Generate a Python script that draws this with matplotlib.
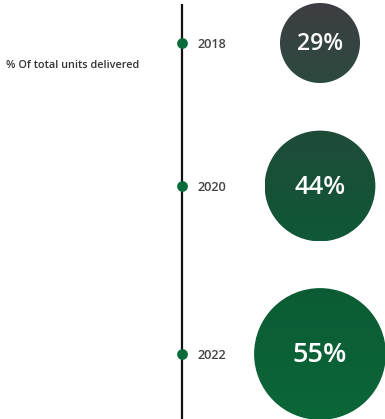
import numpy as np
import matplotlib
matplotlib.use('Agg')
import matplotlib.pyplot as plt
from matplotlib.patches import Circle
from matplotlib.colors import LinearSegmentedColormap

years = ['2018', '2020', '2022']
shares = [29, 44, 55]
caption = '% Of total units delivered'

# top/bottom shade of each bubble
tops = ['#3e3e42', '#1f4b39', '#0c5c34']
bottoms = ['#2c4a3f', '#0f5836', '#0a6638']

W, H = 385, 419
fig = plt.figure(figsize=(W / 100, H / 100), dpi=100)
ax = fig.add_axes([0, 0, 1, 1])
ax.set_xlim(0, W)
ax.set_ylim(H, 0)
ax.set_aspect('equal')
ax.axis('off')

line_x = 182
row_y = [43, 186, 354]
bubble_x = 320

# timeline
ax.plot([line_x, line_x], [4, H], color='#111111', lw=1.6, solid_capstyle='butt', zorder=1)
ax.text(6, 65, caption, fontsize=7.8, fontfamily='Open Sans', fontweight='semibold',
        color='#333333', va='center', ha='left')

for i, (yr, val) in enumerate(zip(years, shares)):
    y = row_y[i]
    ax.scatter([line_x], [y], s=60, color='#0b6b3a', zorder=3, linewidths=0)
    ax.text(198, y + 1, yr, fontsize=9.2, fontfamily='Open Sans', fontweight='semibold',
            color='#444444', va='center', ha='left')

    r = 40 * (val / shares[0]) ** 0.78
    cmap = LinearSegmentedColormap.from_list('b%d' % i, [tops[i], bottoms[i]])
    grad = np.linspace(0, 1, 256).reshape(-1, 1)
    im = ax.imshow(grad, cmap=cmap, extent=[bubble_x - r, bubble_x + r, y + r, y - r],
                   aspect='auto', zorder=2, interpolation='bilinear')
    clip = Circle((bubble_x, y), r, transform=ax.transData)
    im.set_clip_path(clip)
    ax.text(bubble_x, y + 1, '%d%%' % val, fontsize=(10 + r * 0.1) * 1.18, fontfamily='Open Sans',
            fontweight='semibold', color='white', ha='center', va='center', zorder=4)

ax.set_xlim(0, W)
ax.set_ylim(H, 0)
fig.savefig('out.png', dpi=100)
